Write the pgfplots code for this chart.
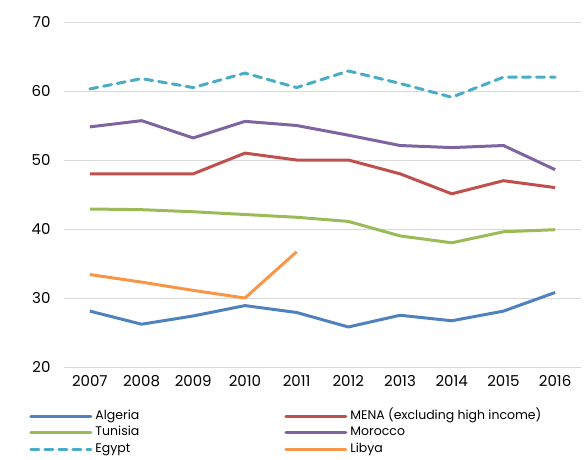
\documentclass[border=0pt]{standalone}
\usepackage{fontspec}
\setmainfont{Poppins}
\usepackage{pgfplots}
\pgfplotsset{compat=1.18}
\definecolor{cAlg}{HTML}{4F81BD}
\definecolor{cMena}{HTML}{C0504D}
\definecolor{cTun}{HTML}{9BBB59}
\definecolor{cMor}{HTML}{8064A2}
\definecolor{cEgy}{HTML}{4BACC6}
\definecolor{cLib}{HTML}{F79646}
\definecolor{cGrid}{HTML}{D9D9D9}
\tikzset{ser/.style={line width=3pt, line join=round, #1}}
\begin{document}
\begin{tikzpicture}
\begin{axis}[
  at={(64pt,92pt)}, anchor=south west,
  scale only axis, width=517pt, height=345pt,
  xmin=2006.5, xmax=2016.5, ymin=20, ymax=70,
  xtick={2007,...,2016}, ytick={20,30,...,70},
  /pgf/number format/assume math mode=true,
  xticklabel style={/pgf/number format/1000 sep={}, font=\fontsize{15}{18}\selectfont, yshift=-5pt},
  yticklabel style={font=\fontsize{15}{18}\selectfont, xshift=-10pt},
  ymajorgrids, grid style={cGrid, line width=1pt},
  axis line style={draw=none},
  major tick length=0pt,
  legend image code/.code={\draw[line width=3pt, line cap=round, #1] (0pt,0pt) -- (60pt,0pt);},
  legend style={draw=none, fill=none, at={(-0.073,-0.118)}, anchor=north west,
    legend columns=2, column sep=3pt, row sep=4pt,
    font=\fontsize{12.5}{14}\selectfont,
    nodes={inner sep=0pt, text height=9.5pt, text depth=3pt}},
  legend cell align=left,
]
\addplot[ser=cAlg] coordinates {(2007,28.1)(2008,26.2)(2009,27.4)(2010,28.9)(2011,27.9)(2012,25.8)(2013,27.5)(2014,26.7)(2015,28.1)(2016,30.8)};
\addlegendentry{\makebox[186pt][l]{Algeria}}
\addplot[ser=cMena] coordinates {(2007,48.0)(2008,48.0)(2009,48.0)(2010,51.0)(2011,50.0)(2012,50.0)(2013,48.0)(2014,45.1)(2015,47.0)(2016,46.0)};
\addlegendentry{MENA (excluding high income)}
\addplot[ser=cTun] coordinates {(2007,42.9)(2008,42.8)(2009,42.5)(2010,42.1)(2011,41.7)(2012,41.1)(2013,39.0)(2014,38.0)(2015,39.6)(2016,39.9)};
\addlegendentry{\makebox[186pt][l]{Tunisia}}
\addplot[ser=cMor] coordinates {(2007,54.8)(2008,55.7)(2009,53.2)(2010,55.6)(2011,55.0)(2012,53.6)(2013,52.1)(2014,51.8)(2015,52.1)(2016,48.6)};
\addlegendentry{Morocco}
\addplot[ser=cEgy, line cap=round, dash pattern=on 8pt off 6pt] coordinates {(2007,60.3)(2008,61.8)(2009,60.5)(2010,62.6)(2011,60.5)(2012,62.9)(2013,61.1)(2014,59.1)(2015,62.0)(2016,62.0)};
\addlegendentry{\makebox[186pt][l]{Egypt}}
\addplot[ser=cLib] coordinates {(2007,33.4)(2008,32.3)(2009,31.1)(2010,30.0)(2011,36.7)};
\addlegendentry{Libya}
\end{axis}
\pgfresetboundingbox
\path[use as bounding box] (0,0) rectangle (587pt,459pt);
\end{tikzpicture}
\end{document}
